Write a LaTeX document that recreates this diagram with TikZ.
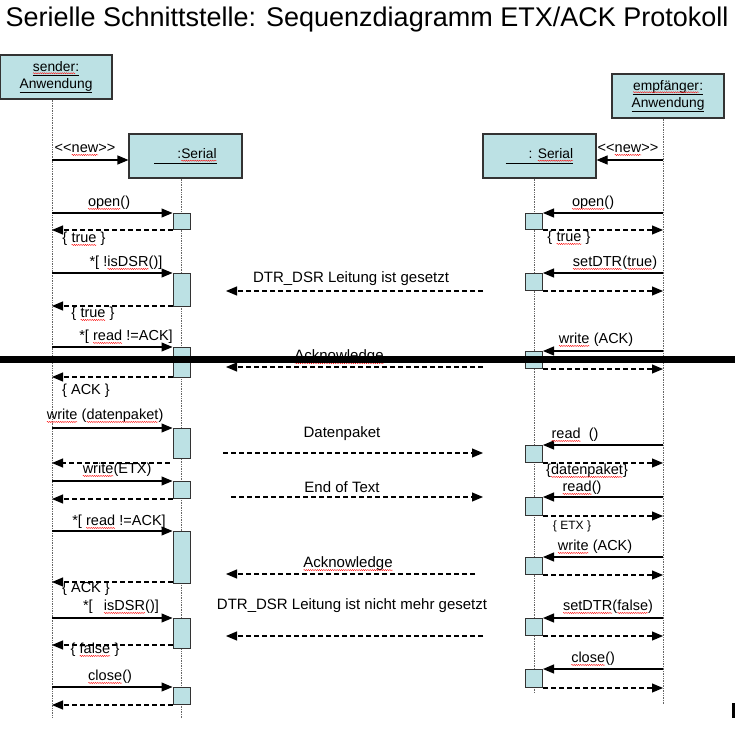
\documentclass[tikz,border=0pt]{standalone}
\usepackage{fontspec}
\setmainfont{Liberation Sans}
\usetikzlibrary{arrows.meta,decorations.pathmorphing}
\definecolor{boxfill}{RGB}{188,225,228}
\newcommand\sq[1]{\tikz[baseline=(w.base),x=1pt,y=1pt]{\node[inner sep=0pt,outer sep=0pt,minimum width=0pt,minimum height=0pt,anchor=base,align=left] (w) at (0,0) {#1};\draw[red,line width=0.35pt,decorate,decoration={snake,amplitude=0.6pt,segment length=2.2pt}] ([yshift=-2.2pt]w.base west) -- ([yshift=-2.2pt]w.base east);}}
\begin{document}
\begin{tikzpicture}[x=1pt,y=-1pt,
 obj/.style={draw=black!80, line width=1.1pt, fill=boxfill, minimum width=113pt, minimum height=44pt, inner sep=0pt, font=\fontsize{13.8}{16}\selectfont, align=center},
 act/.style={draw=black!80, line width=1pt, fill=boxfill, minimum width=17pt, inner sep=0pt, anchor=north},
 life/.style={densely dotted, line width=0.7pt, black!60},
 msg/.style={line width=1.1pt, -{Triangle[length=11pt,width=9pt]}},
 ret/.style={line width=1.1pt, dash pattern=on 5pt off 3pt, -{Triangle[length=11pt,width=9pt]}},
 lbl/.style={font=\fontsize{14.5}{16}\selectfont, inner sep=0pt},
 mid/.style={font=\fontsize{15}{17}\selectfont, inner sep=0pt},
 ]
\useasboundingbox (0,0) rectangle (735,735);
\fill[white] (0,0) rectangle (735,735);
% title
\node[font=\fontsize{27}{30}\selectfont, anchor=base, inner sep=0pt] (title) at (367,27) {Serielle Schnittstelle: Sequenzdiagramm ETX/ACK Protokoll};
% objects
\node[obj, minimum width=112pt] (sender) at (56,77) {\underline{\sq{sender}:}\\[1pt]\underline{Anwendung}};
\node[obj] (serL) at (185.5,156) {\underline{\hphantom{\_\_\_}:\sq{Serial}}};
\node[obj, minimum width=112pt] (empf) at (668,96) {\underline{\sq{empfänger}:}\\[1pt]\underline{Anwendung}};
\node[obj] (serR) at (539.5,156) {\underline{\hphantom{\_\_\_}: \sq{Serial}}};
% lifelines
\coordinate (sX) at (52,718);
\coordinate (lX) at (181.5,718);
\coordinate (rX) at (534,693);
\coordinate (eX) at (663,705);
\draw[life] (sX |- sender.south) -- (sX);
\draw[life] (lX |- serL.south) -- (lX);
\draw[life] (rX |- serR.south) -- (rX);
\draw[life] (eX |- empf.south) -- (eX);
% create
\coordinate (nL) at (52,160);
\coordinate (nR) at (663,160);
\draw[msg] (nL) -- (nL -| serL.west);
\draw[msg] (nR) -- (nR -| serR.east);
\node[lbl] (tnL) at (85,150) {<\kern0pt<\sq{new}>\kern0pt>};
\node[lbl] (tnR) at (628,150) {<\kern0pt<\sq{new}>\kern0pt>};
% left activations
\node[act, minimum height=16pt] (aL1) at (181.5,213) {};
\node[act, minimum height=33pt] (aL2) at (181.5,273) {};
\node[act, minimum height=30pt] (aL3) at (181.5,347) {};
\node[act, minimum height=30pt] (aL4) at (181.5,428) {};
\node[act, minimum height=17pt] (aL5) at (181.5,481) {};
\node[act, minimum height=52pt] (aL6) at (181.5,531) {};
\node[act, minimum height=30pt] (aL7) at (181.5,618) {};
\node[act, minimum height=17pt] (aL8) at (181.5,687) {};
\foreach \i in {1,...,8} {\draw[msg] (aL\i.north west -| sX) -- (aL\i.north west);}
\draw[ret] (aL1.south west) -- (aL1.south west -| sX);
\draw[ret] ([yshift=1pt]aL2.south west) -- ([yshift=1pt]aL2.south west -| sX);
\draw[ret] ([yshift=1pt]aL3.south west) -- ([yshift=1pt]aL3.south west -| sX);
\draw[ret] ([xshift=-3pt,yshift=-4pt]aL4.south west) -- ([yshift=-4pt]aL4.south west -| sX);
\draw[ret] (aL5.south west) -- (aL5.south west -| sX);
\draw[ret] ([yshift=2pt]aL6.south west) -- ([yshift=2pt]aL6.south west -| sX);
\draw[ret] ([yshift=4pt]aL7.south west) -- ([yshift=4pt]aL7.south west -| sX);
\draw[ret] (aL8.south west) -- (aL8.south west -| sX);
% left labels
\node[lbl] (tl1) at (109,203) {\sq{open}()};
\node[lbl] (tl1r) at (84,239) {\{ \sq{true} \}};
\node[lbl] (tl2) at (126,263) {*[ !\sq{isDSR}()]};
\node[lbl] (tl2r) at (93,314) {\{ \sq{true} \}};
\node[lbl] (tl3) at (126,337) {*[ \sq{read} !=ACK]};
\node[lbl] (tl3r) at (86,391) {\{ ACK \}};
\node[lbl] (tl4) at (105,416) {\sq{write} (\sq{datenpaket})};
\node[lbl] (tl5) at (117,470) {\sq{write}(ETX)};
\node[lbl] (tl6) at (119,522) {*[ \sq{read} !=ACK]};
\node[lbl] (tl6r) at (86,589) {\{ ACK \}};
\node[lbl] (tl7) at (121,607) {*[\hspace{7pt} \sq{isDSR}()]};
\node[lbl] (tl7r) at (95,650) {\{ \sq{false} \}};
\node[lbl] (tl8) at (110,677) {\sq{close}()};
% right activations
\node[act, minimum height=16pt] (aR1) at (534,213) {};
\node[act, minimum height=17pt] (aR2) at (534,273) {};
\node[act, minimum height=17pt] (aR3) at (534,351) {};
\node[act, minimum height=17pt] (aR4) at (534,445) {};
\node[act, minimum height=18pt] (aR5) at (534,497) {};
\node[act, minimum height=17pt] (aR6) at (534,557) {};
\node[act, minimum height=17pt] (aR7) at (534,618) {};
\node[act, minimum height=18pt] (aR8) at (534,669) {};
\foreach \i in {1,...,8} {
  \draw[msg] (aR\i.north east -| eX) -- (aR\i.north east);
  \draw[ret] (aR\i.south east) -- (aR\i.south east -| eX);
}
% right labels
\node[lbl] (tr1) at (593,203) {\sq{open}()};
\node[lbl] (tr1r) at (569,238) {\{ \sq{true} \}};
\node[lbl] (tr2) at (615,263) {\sq{setDTR}(\sq{true})};
\node[lbl] (tr3) at (596,340) {\sq{write} (ACK)};
\node[lbl] (tr4) at (575,435) {\sq{read}\ \ ()};
\node[lbl] (tr4r) at (587,471) {\{\sq{datenpaket}\}};
\node[lbl] (tr5) at (582,488) {\sq{read}()};
\node[font=\fontsize{12}{14}\selectfont, inner sep=0pt] (tr5r) at (572,526) {\{ ETX \}};
\node[lbl] (tr6) at (595,547) {\sq{write} (ACK)};
\node[lbl] (tr7) at (608,607) {\sq{setDTR}(\sq{false})};
\node[lbl] (tr8) at (593,659) {\sq{close}()};
% middle signals
\coordinate (m1a) at (483,291); \coordinate (m1b) at (226,291);
\coordinate (m2a) at (483,367); \coordinate (m2b) at (226,367);
\coordinate (m3a) at (223,453); \coordinate (m3b) at (483,453);
\coordinate (m4a) at (231,497); \coordinate (m4b) at (483,497);
\coordinate (m5a) at (475,574); \coordinate (m5b) at (226,574);
\coordinate (m6a) at (483,636); \coordinate (m6b) at (226,636);
\foreach \i in {1,...,6} {\draw[ret] (m\i a) -- (m\i b);}
\node[mid] (tm1) at (351,279) {DTR\_DSR Leitung ist gesetzt};
\node[mid] (tm2) at (339,357) {\sq{Acknowledge}};
\node[mid] (tm3) at (342,434) {Datenpaket};
\node[mid] (tm4) at (342,487) {End of Text};
\node[mid] (tm5) at (348,564) {\sq{Acknowledge}};
\node[mid] (tm6) at (352,606) {DTR\_DSR Leitung ist nicht mehr gesetzt};
% black bar across and mark
\fill[black] (0,356) rectangle (735,363);
\fill[black] (732,703) rectangle (735,718);
\end{tikzpicture}
\end{document}
